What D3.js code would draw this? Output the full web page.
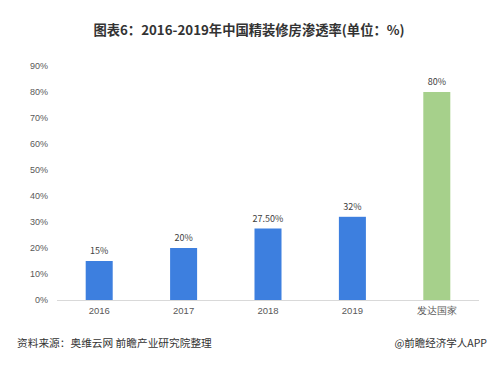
<!DOCTYPE html>
<html>
<head>
<meta charset="utf-8">
<script src="https://cdn.jsdelivr.net/npm/d3@7"></script>
<style>
  body { margin: 0; background: #fff; }
  svg { font-family: "Noto Sans CJK SC", "Noto Sans", sans-serif; display: block; }
</style>
</head>
<body>
<svg id="chart"></svg>
<script>
const categories = ["2016", "2017", "2018", "2019", "发达国家"];
const values = [15, 20, 27.5, 32, 80];
const valueLabels = ["15%", "20%", "27.50%", "32%", "80%"];
const yTicks = [0, 10, 20, 30, 40, 50, 60, 70, 80, 90];

const w = 499, h = 366;
const svg = d3.select("#chart").attr("width", w).attr("height", h);

const x = d3.scaleBand().domain(categories).range([57, 479]).paddingInner(0.68).paddingOuter(0.34);
const y = d3.scaleLinear().domain([0, 90]).range([300, 66]);

// title
svg.append("text")
  .attr("x", 249).attr("y", 35)
  .attr("text-anchor", "middle")
  .attr("font-size", 13.3).attr("font-weight", "bold")
  .attr("fill", "#333")
  .text("图表6：2016-2019年中国精装修房渗透率(单位：%)");

// y axis labels
const yAxis = d3.axisLeft(y).tickValues(yTicks).tickFormat(d => d + "%").tickSize(0).tickPadding(0);
const ya = svg.append("g").attr("transform", "translate(48,0)").call(yAxis);
ya.select(".domain").remove();
ya.selectAll("text").attr("font-size", 9).attr("fill", "#595959").attr("font-family", "inherit");

// x axis
const xAxis = d3.axisBottom(x).tickSize(0).tickPadding(7);
const xa = svg.append("g").attr("transform", "translate(0,300)").call(xAxis);
xa.select(".domain").attr("stroke", "#d9d9d9").attr("d", "M57,0.5H479");
xa.selectAll("text").attr("font-size", 9.5).attr("fill", "#595959").attr("font-family", "inherit");

// bars
svg.selectAll(".bar")
  .data(values)
  .enter()
  .append("rect")
  .attr("class", "bar")
  .attr("x", (d, i) => x(categories[i]))
  .attr("y", d => y(d))
  .attr("width", x.bandwidth())
  .attr("height", d => y(0) - y(d))
  .attr("fill", (d, i) => i === 4 ? "#a6d08b" : "#3d7fdf");

// value labels
svg.selectAll(".vlabel")
  .data(values)
  .enter()
  .append("text")
  .attr("class", "vlabel")
  .attr("x", (d, i) => x(categories[i]) + x.bandwidth() / 2)
  .attr("y", d => y(d) - 7)
  .attr("text-anchor", "middle")
  .attr("font-size", 9)
  .attr("fill", "#404040")
  .text((d, i) => valueLabels[i]);

// footer
svg.append("text")
  .attr("x", 17).attr("y", 347)
  .attr("font-size", 10.7).attr("fill", "#333")
  .text("资料来源：奥维云网 前瞻产业研究院整理");
svg.append("text")
  .attr("x", 487).attr("y", 347)
  .attr("text-anchor", "end")
  .attr("font-size", 10.5).attr("fill", "#333")
  .text("@前瞻经济学人APP");
</script>
</body>
</html>
